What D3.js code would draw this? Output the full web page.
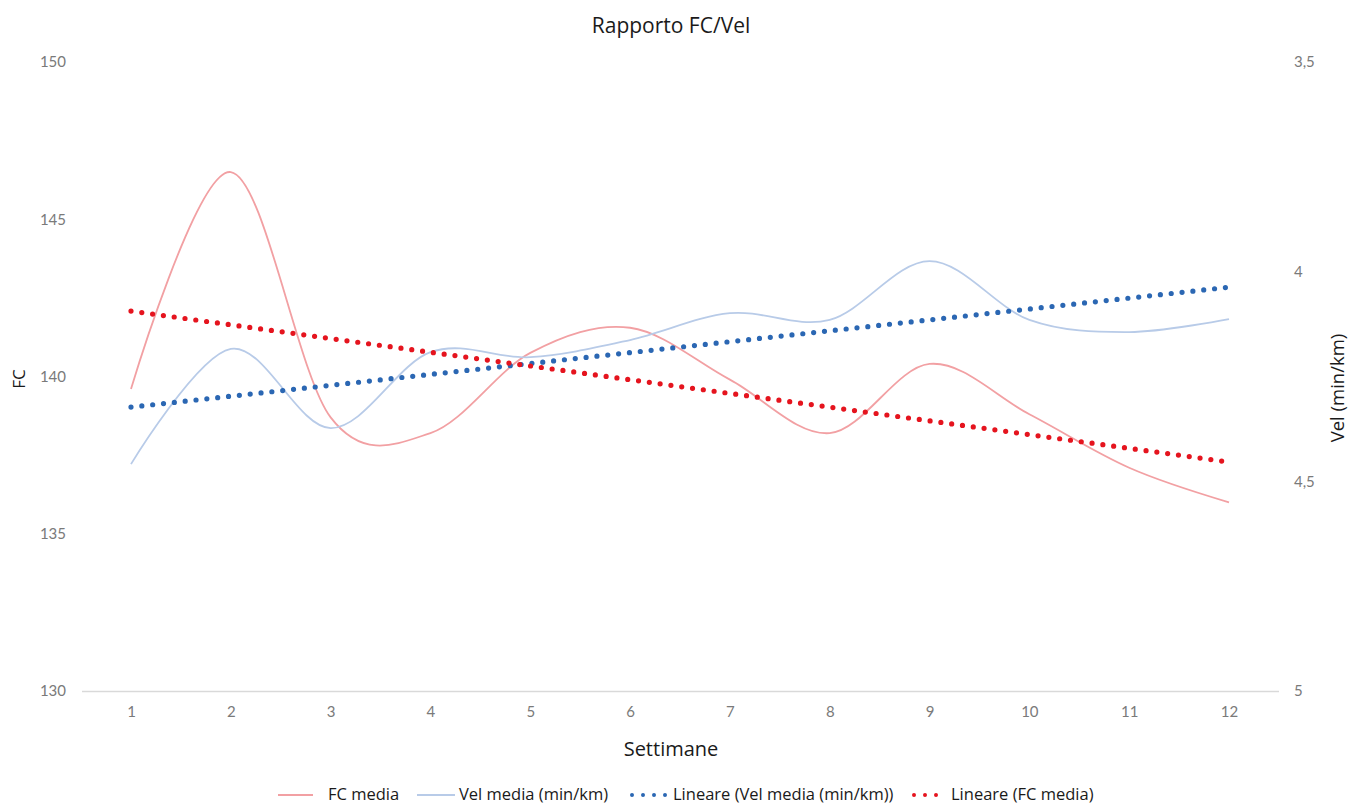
<!DOCTYPE html>
<html>
<head>
<meta charset="utf-8">
<script src="https://cdn.jsdelivr.net/npm/d3@7/dist/d3.min.js"></script>
<style>
  html, body { margin: 0; padding: 0; background: #ffffff; }
  svg { display: block; }
</style>
</head>
<body>
<script>
// Weekly averages
const weeks = [1, 2, 3, 4, 5, 6, 7, 8, 9, 10, 11, 12];
const fcMedia = [139.6, 146.5, 138.7, 138.2, 140.75, 141.55, 139.9, 138.2, 140.4, 138.8, 137.1, 136.0];
const velMedia = [4.459, 4.184, 4.373, 4.192, 4.204, 4.163, 4.099, 4.115, 3.975, 4.115, 4.144, 4.113];

// Linear trend lines (start and end values, weeks 1 and 12)
const trendWeeks = [1, 12];
const trendVel = [4.323, 4.037];
const trendFC = [142.08, 137.28];

// Axis ticks
const fcTicks = [130, 135, 140, 145, 150];
const velTicks = [3.5, 4, 4.5, 5];
const velTickLabels = ["3,5", "4", "4,5", "5"];

const W = 1348, H = 805;
const svg = d3.select("body").append("svg").attr("width", W).attr("height", H);

const x = d3.scaleLinear().domain([1, 12]).range([131, 1229]);
const yL = d3.scaleLinear().domain([130, 150]).range([691, 62]);
const yR = d3.scaleLinear().domain([5, 3.5]).range([691, 62]);

const tickFont = "Lato, 'Open Sans', sans-serif";
const labelFont = "'Open Sans', 'Noto Sans', sans-serif";

// Title
svg.append("text")
  .attr("x", 671).attr("y", 33)
  .attr("text-anchor", "middle")
  .attr("font-family", labelFont).attr("font-size", 21)
  .attr("fill", "#1a1a1a")
  .text("Rapporto FC/Vel");

// Left axis
const leftAxis = d3.axisLeft(yL).tickValues(fcTicks).tickSize(0).tickPadding(0);
const gL = svg.append("g").attr("transform", "translate(66,0)").call(leftAxis);
gL.select(".domain").remove();
gL.selectAll("text").attr("font-family", tickFont).attr("font-size", 15).attr("fill", "#7a7a7a");

// Right axis
const rightAxis = d3.axisRight(yR).tickValues(velTicks).tickSize(0).tickPadding(0)
  .tickFormat((d, i) => velTickLabels[i]);
const gR = svg.append("g").attr("transform", "translate(1294,0)").call(rightAxis);
gR.select(".domain").remove();
gR.selectAll("text").attr("font-family", tickFont).attr("font-size", 15).attr("fill", "#7a7a7a");

// Bottom axis
const bottomAxis = d3.axisBottom(x).tickValues(weeks).tickSize(0).tickPadding(15).tickFormat(d3.format("d"));
const gB = svg.append("g").attr("transform", "translate(0,691)").call(bottomAxis);
gB.select(".domain").remove();
gB.selectAll("text").attr("font-family", tickFont).attr("font-size", 15).attr("fill", "#7a7a7a");
svg.append("line")
  .attr("x1", 82).attr("x2", 1279).attr("y1", 691.5).attr("y2", 691.5)
  .attr("stroke", "#d9d9d9").attr("stroke-width", 1.3);

// Axis titles
svg.append("text")
  .attr("x", 671).attr("y", 756)
  .attr("text-anchor", "middle")
  .attr("font-family", labelFont).attr("font-size", 20)
  .attr("fill", "#1a1a1a")
  .text("Settimane");

svg.append("text")
  .attr("transform", "translate(25,379) rotate(-90)")
  .attr("text-anchor", "middle")
  .attr("font-family", labelFont).attr("font-size", 17)
  .attr("fill", "#1a1a1a")
  .text("FC");

svg.append("text")
  .attr("transform", "translate(1344,388) rotate(-90)")
  .attr("text-anchor", "middle")
  .attr("font-family", labelFont).attr("font-size", 18.5)
  .attr("fill", "#1a1a1a")
  .text("Vel (min/km)");

// Series lines
const smooth = d3.curveCardinal.tension(0);
const lineFC = d3.line().x((d, i) => x(weeks[i])).y(d => yL(d)).curve(smooth);
const lineVel = d3.line().x((d, i) => x(weeks[i])).y(d => yR(d)).curve(smooth);

svg.append("path").datum(fcMedia)
  .attr("d", lineFC).attr("fill", "none")
  .attr("stroke", "#f2a0a3").attr("stroke-width", 1.8);

svg.append("path").datum(velMedia)
  .attr("d", lineVel).attr("fill", "none")
  .attr("stroke", "#b8cbe8").attr("stroke-width", 1.8);

// Trend lines (round dots)
const tVel = d3.line().x((d, i) => x(trendWeeks[i])).y(d => yR(d));
const tFC = d3.line().x((d, i) => x(trendWeeks[i])).y(d => yL(d));

svg.append("path").datum(trendVel)
  .attr("d", tVel).attr("fill", "none")
  .attr("stroke", "#2b67b3").attr("stroke-width", 5.2)
  .attr("stroke-linecap", "round").attr("stroke-dasharray", "0 10.9");

svg.append("path").datum(trendFC)
  .attr("d", tFC).attr("fill", "none")
  .attr("stroke", "#e5141e").attr("stroke-width", 5.2)
  .attr("stroke-linecap", "round").attr("stroke-dasharray", "0 10.9");

// Legend
const legendY = 795;
const legendItems = [
  { label: "FC media", x0: 278, x1: 313, tx: 328, color: "#f2a0a3", dotted: false },
  { label: "Vel media (min/km)", x0: 417, x1: 455, tx: 459, color: "#b8cbe8", dotted: false },
  { label: "Lineare (Vel media (min/km))", x0: 632, x1: 666, tx: 673, color: "#2b67b3", dotted: true },
  { label: "Lineare (FC media)", x0: 914, x1: 946, tx: 951, color: "#e5141e", dotted: true }
];
const lg = svg.append("g");
legendItems.forEach(it => {
  const l = lg.append("line")
    .attr("x1", it.x0).attr("x2", it.x1)
    .attr("y1", legendY).attr("y2", legendY)
    .attr("stroke", it.color);
  if (it.dotted) {
    l.attr("stroke-width", 4).attr("stroke-linecap", "round").attr("stroke-dasharray", "0 11");
  } else {
    l.attr("stroke-width", 1.8);
  }
  lg.append("text")
    .attr("x", it.tx).attr("y", 800)
    .attr("font-family", labelFont).attr("font-size", 16.5)
    .attr("fill", "#1a1a1a")
    .text(it.label);
});
</script>
</body>
</html>
